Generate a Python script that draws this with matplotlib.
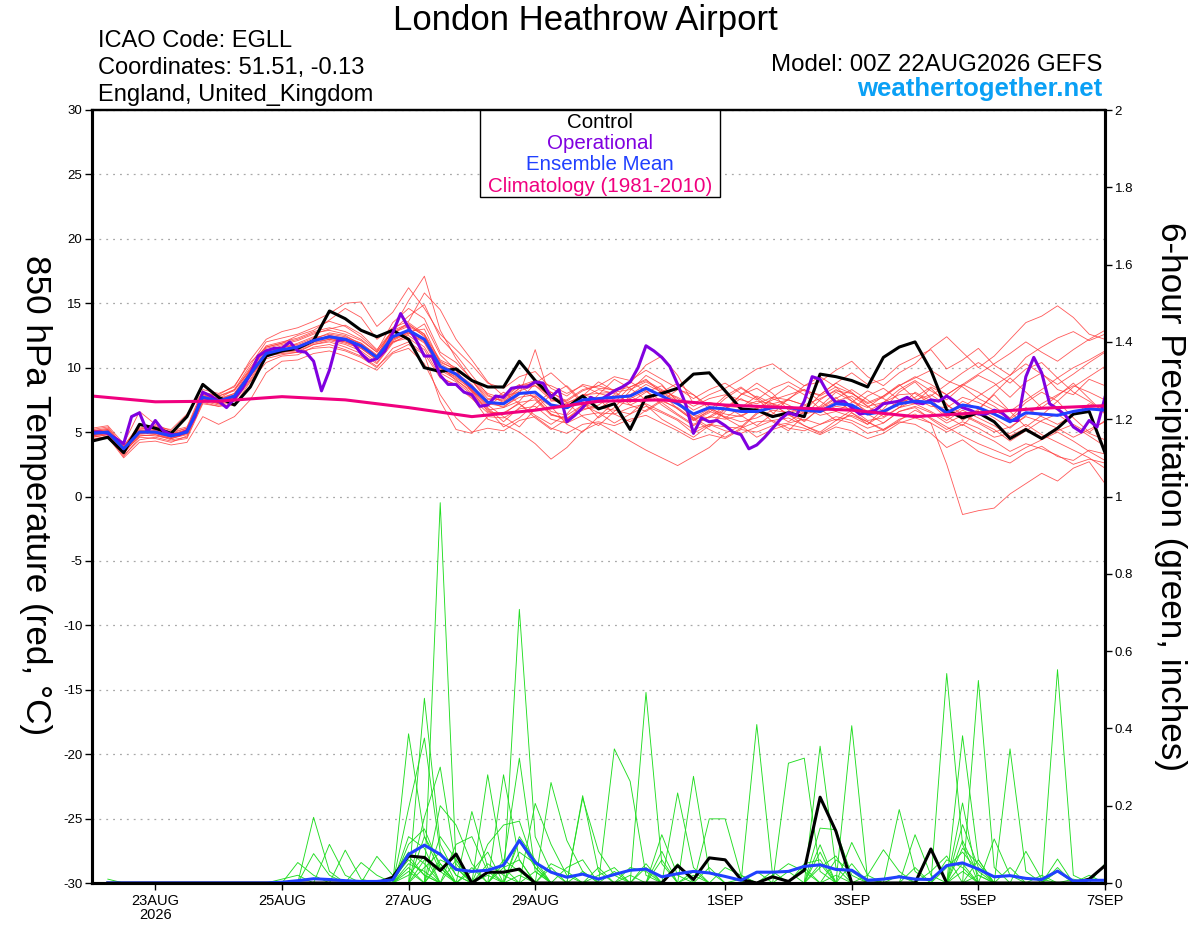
import matplotlib
matplotlib.use('Agg')
import matplotlib.pyplot as plt
from matplotlib.patches import Rectangle
import numpy as np
import pandas as pd

plt.rcParams['font.family'] = ['Liberation Sans', 'DejaVu Sans']
plt.rcParams['axes.unicode_minus'] = False

# ---- forecast times (00Z 22AUG2026 GEFS run) ----
run_start = pd.Timestamp('2026-08-22 00:00')
times_6h = pd.date_range(run_start, periods=65, freq='6h')
times_3h = pd.date_range(run_start, periods=129, freq='3h')
times_clim = pd.date_range(run_start, periods=17, freq='1D')

# ---- 850 hPa temperature (C) ----
control_t = [4.3, 4.6, 3.4, 5.6, 5.3, 4.9, 6.2, 8.7, 7.7, 7.1, 8.5, 10.9, 11.3,
             11.5, 12.1, 14.4, 13.8, 12.9, 12.4, 12.9, 12.2, 10.0, 9.7, 9.9, 9.0, 8.5,
             8.5, 10.5, 9.0, 7.8, 6.9, 7.8, 6.8, 7.2, 5.2, 7.7, 8.0, 8.4, 9.5,
             9.6, 8.2, 6.8, 6.7, 6.2, 6.5, 6.2, 9.5, 9.3, 9.0, 8.5, 10.8, 11.6, 12.0,
             9.8, 6.7, 6.1, 6.5, 5.8, 4.5, 5.2, 4.5, 5.3, 6.4, 6.6, 3.4]

operational_t = [5.0, 5.0, 4.9, 4.5, 4.1, 6.2, 6.5, 5.0, 5.9, 5.1, 4.8, 4.8, 5.1,
                 6.2, 8.1, 7.8, 7.4, 6.9, 7.6, 8.4, 9.5, 10.9, 11.3, 11.5, 11.5,
                 12.0, 11.3, 11.2, 10.5, 8.2, 9.8, 12.1, 12.2, 11.9, 11.1, 10.5,
                 10.7, 11.3, 12.7, 14.2, 13.1, 12.1, 10.9, 10.9, 9.4, 8.7, 8.7,
                 8.1, 7.9, 7.0, 7.1, 7.8, 7.7, 8.4, 8.5, 8.5, 8.9, 8.8, 7.7, 8.3,
                 5.8, 6.3, 6.9, 7.7, 7.4, 7.8, 8.2, 8.5, 8.9, 10.0, 11.7, 11.3,
                 10.8, 10.1, 8.7, 7.2, 4.9, 6.1, 5.8, 5.9, 5.5, 5.0, 4.8, 3.7,
                 4.0, 4.6, 5.3, 6.0, 6.5, 6.3, 7.4, 9.3, 9.1, 8.0, 7.3, 7.4, 6.9,
                 6.4, 6.5, 6.7, 7.2, 7.3, 7.4, 7.7, 7.3, 7.2, 7.5, 7.4, 7.8, 7.4,
                 6.9, 6.7, 6.4, 6.4, 6.7, 6.5, 5.9, 5.9, 9.3, 10.8, 9.6, 7.2,
                 6.8, 6.3, 5.4, 5.0, 5.9, 5.4, 7.7]

mean_t = [4.9, 5.0, 3.7, 5.0, 5.0, 4.7, 5.0, 7.7, 7.4, 7.8, 9.5, 11.1, 11.4,
          11.6, 12.1, 12.4, 12.2, 11.7, 10.8, 12.4, 12.9, 12.2, 10.1, 9.5, 8.5, 7.3,
          7.2, 8.0, 8.1, 7.1, 6.9, 7.5, 7.6, 7.7, 7.8, 8.4, 7.8, 7.2, 6.4,
          6.9, 6.8, 6.6, 6.6, 6.9, 6.9, 6.7, 6.6, 7.2, 7.1, 6.4, 6.6, 7.2,
          7.4, 7.3, 6.5, 7.1, 6.9, 6.4, 5.8, 6.5, 6.4, 6.3, 6.6, 6.8, 6.7]

climatology_t = [7.8, 7.35, 7.4, 7.75, 7.5, 6.9, 6.2, 6.7, 7.4, 7.5, 7.1, 6.9,
                 6.7, 6.2, 6.5, 6.85, 7.05]

temp_m01 = [5.1, 5.3, 3.9, 5.6, 5.4, 5.2, 6.4, 8.1, 7.6, 8.3, 10.2, 12.0, 12.3,
            12.6, 13.1, 13.6, 13.2, 12.4, 11.3, 13.5, 14.6, 13.8, 11.2, 10.4, 9.1, 8.0,
            7.6, 8.6, 9.0, 8.1, 7.4, 8.2, 8.6, 9.3, 9.0, 9.8, 9.1, 8.4, 7.6,
            8.3, 8.8, 8.0, 7.5, 8.4, 8.9, 8.2, 7.9, 8.8, 9.6, 8.7, 9.1, 10.2,
            10.8, 11.4, 9.9, 10.6, 11.5, 10.2, 9.4, 10.8, 11.6, 12.3, 12.8, 12.1, 12.6]
temp_m02 = [4.6, 4.8, 3.2, 4.4, 4.6, 4.3, 4.5, 7.2, 7.0, 7.1, 8.9, 10.4, 10.9,
            11.0, 11.6, 11.8, 11.4, 10.9, 10.1, 11.2, 11.8, 11.0, 7.4, 5.2, 4.9, 6.2,
            6.1, 6.8, 7.0, 6.0, 5.7, 6.3, 6.5, 6.4, 6.9, 7.2, 6.6, 6.0, 5.2,
            5.6, 5.4, 5.3, 5.8, 5.9, 5.3, 5.1, 5.6, 6.0, 5.7, 4.9, 5.2, 5.8,
            5.6, 4.9, 3.8, 4.4, 3.5, 3.0, 2.6, 3.4, 3.9, 3.1, 2.8, 3.6, 3.3]
temp_m03 = [5.0, 5.2, 3.6, 5.3, 5.2, 4.9, 5.3, 8.0, 7.9, 8.6, 10.4, 11.6, 11.9,
            12.5, 12.9, 13.7, 14.6, 13.9, 12.2, 13.1, 13.6, 15.8, 14.5, 12.2, 10.6, 8.9,
            7.8, 8.1, 7.7, 6.4, 6.0, 6.7, 7.1, 7.9, 7.3, 8.1, 8.6, 7.4, 6.3,
            6.1, 6.8, 7.9, 8.4, 7.6, 7.1, 6.5, 7.0, 8.1, 7.4, 6.6, 7.3, 8.3,
            9.0, 8.2, 7.5, 8.6, 9.4, 8.8, 7.7, 8.9, 9.6, 8.3, 7.9, 9.1, 8.6]
temp_m04 = [4.8, 4.9, 3.4, 4.7, 4.8, 4.4, 4.6, 7.4, 7.1, 7.5, 9.1, 10.9, 11.2,
            11.3, 11.8, 12.0, 11.6, 11.1, 10.3, 11.9, 12.6, 13.4, 11.0, 9.8, 8.2, 6.6,
            6.4, 7.3, 7.5, 6.3, 6.1, 6.8, 6.9, 6.7, 6.4, 7.0, 6.5, 5.9, 4.9,
            5.6, 5.1, 4.9, 5.4, 5.9, 6.1, 5.5, 5.0, 5.9, 6.3, 5.8, 5.2, 6.0,
            6.4, 5.7, 2.5, -1.4, -1.1, -0.9, 0.2, 1.0, 1.8, 1.2, 2.2, 2.7, 1.0]
temp_m05 = [5.3, 5.5, 4.1, 6.6, 5.6, 5.1, 5.4, 8.3, 8.0, 8.5, 10.6, 12.2, 12.8,
            13.1, 13.6, 14.2, 15.0, 15.1, 13.2, 14.3, 16.2, 14.6, 12.6, 11.4, 10.2, 8.8,
            8.4, 9.3, 9.7, 8.4, 7.8, 8.7, 8.4, 8.3, 8.8, 10.2, 10.9, 9.4, 7.2,
            7.9, 8.4, 9.1, 9.9, 10.3, 9.4, 8.6, 8.9, 9.8, 10.5, 9.3, 8.6, 9.6,
            10.3, 11.5, 12.4, 11.2, 10.0, 10.9, 12.2, 13.5, 14.0, 14.8, 13.9, 12.6, 12.2]
temp_m06 = [4.5, 4.6, 3.0, 4.2, 4.3, 4.0, 4.2, 6.2, 5.6, 6.2, 7.5, 9.6, 10.5,
            10.6, 11.1, 11.3, 10.9, 10.4, 9.8, 11.1, 11.5, 10.3, 7.9, 6.1, 5.0, 5.3,
            5.1, 5.9, 6.2, 5.3, 4.9, 5.6, 5.8, 5.5, 6.0, 6.3, 5.7, 5.1, 4.4,
            4.8, 4.5, 5.2, 5.0, 5.5, 5.7, 6.0, 5.6, 6.2, 5.9, 5.3, 5.7, 6.6,
            6.9, 6.0, 5.2, 5.8, 5.3, 4.6, 4.9, 5.6, 4.8, 4.2, 3.6, 3.0, 2.2]
temp_m07 = [4.9, 5.1, 3.8, 5.1, 5.0, 4.6, 5.1, 7.6, 7.3, 7.7, 9.8, 11.4, 11.5,
            11.9, 12.4, 12.3, 12.0, 11.6, 10.9, 12.2, 12.8, 13.0, 10.4, 9.9, 9.0, 7.8,
            7.4, 8.2, 8.6, 7.8, 7.3, 7.7, 8.3, 8.0, 7.6, 8.2, 7.4, 6.9, 6.0,
            6.6, 6.2, 5.8, 6.1, 6.7, 6.5, 6.9, 6.3, 6.6, 6.2, 5.6, 6.4, 7.3,
            7.7, 8.5, 7.9, 8.7, 8.1, 7.3, 6.6, 7.5, 8.3, 9.2, 10.0, 10.6, 11.3]
temp_m08 = [5.2, 5.0, 3.5, 4.9, 5.1, 4.8, 5.2, 7.9, 7.5, 8.0, 9.6, 11.3, 11.7,
            11.8, 12.3, 12.6, 12.4, 11.9, 11.0, 12.7, 13.2, 12.5, 10.3, 9.6, 8.7, 7.2,
            7.0, 7.7, 7.9, 6.6, 6.3, 7.1, 7.3, 7.4, 7.1, 7.7, 7.3, 6.4, 5.6,
            6.2, 6.0, 6.3, 6.8, 7.2, 7.5, 7.1, 6.5, 7.0, 6.8, 5.9, 6.1, 6.9,
            7.2, 6.6, 5.9, 6.7, 6.1, 5.5, 4.7, 5.3, 4.6, 5.1, 5.6, 4.9, 4.4]
temp_m09 = [4.7, 4.9, 3.3, 4.9, 4.9, 4.5, 4.9, 7.5, 7.2, 7.6, 9.3, 10.9, 11.1,
            11.2, 11.8, 12.1, 11.8, 11.3, 10.4, 12.0, 12.5, 11.6, 9.6, 8.9, 7.9, 6.7,
            6.9, 7.4, 8.8, 9.6, 8.5, 7.2, 6.8, 7.6, 8.9, 8.2, 7.1, 6.3, 5.5,
            6.2, 7.0, 6.3, 5.5, 6.4, 7.6, 8.3, 7.4, 6.6, 7.3, 8.2, 7.6, 6.9,
            8.1, 7.4, 6.3, 7.4, 6.8, 6.1, 5.3, 6.3, 7.2, 7.9, 8.6, 8.1, 7.5]
temp_m10 = [5.0, 5.0, 3.9, 5.2, 5.3, 4.9, 5.0, 7.8, 7.6, 8.0, 9.9, 11.5, 11.8,
            12.1, 12.6, 13.0, 13.3, 12.6, 11.4, 12.9, 13.4, 12.4, 10.5, 9.8, 8.1, 7.5,
            7.8, 8.6, 8.8, 7.6, 7.0, 7.9, 7.6, 6.4, 5.8, 6.7, 7.5, 6.8, 5.9,
            6.5, 7.6, 8.4, 7.7, 6.9, 7.5, 8.6, 9.3, 8.5, 7.4, 6.9, 7.8, 8.7,
            7.6, 7.0, 6.9, 7.7, 7.3, 6.7, 6.0, 6.9, 6.2, 5.6, 6.3, 7.2, 6.8]
temp_m11 = [4.4, 4.7, 3.1, 4.6, 4.5, 4.2, 4.7, 7.3, 7.0, 7.4, 9.0, 10.7, 11.0,
            11.2, 11.5, 11.6, 11.3, 10.8, 10.0, 11.5, 12.0, 11.1, 9.2, 8.7, 7.7, 6.0,
            5.6, 5.0, 4.1, 2.9, 3.8, 5.1, 5.7, 5.0, 4.3, 3.6, 3.0, 2.4, 3.1,
            3.8, 4.9, 5.5, 4.6, 5.2, 5.6, 5.3, 4.8, 5.4, 5.1, 4.5, 4.9, 5.7,
            6.1, 5.7, 5.0, 5.6, 4.9, 4.3, 3.5, 4.1, 3.7, 3.2, 2.5, 2.9, 2.6]
temp_m12 = [5.1, 5.2, 3.8, 5.4, 5.2, 4.8, 5.2, 7.9, 7.8, 8.3, 9.8, 11.6, 11.9,
            12.2, 12.7, 12.9, 12.6, 12.1, 11.2, 12.9, 14.0, 14.9, 12.3, 11.0, 9.4, 7.9,
            7.3, 8.4, 8.9, 8.6, 8.0, 8.6, 8.0, 7.7, 7.9, 8.7, 8.1, 7.2, 6.1,
            6.8, 6.4, 6.2, 6.9, 7.5, 7.9, 8.3, 7.8, 8.5, 8.0, 7.2, 7.7, 8.6,
            9.2, 9.8, 9.0, 8.5, 7.6, 7.0, 6.1, 7.3, 8.1, 7.4, 8.5, 9.3, 10.1]
temp_m13 = [4.8, 5.0, 3.6, 4.8, 4.7, 4.5, 4.8, 7.6, 7.2, 7.6, 9.4, 11.0, 11.3,
            11.5, 12.0, 12.5, 12.3, 11.9, 10.9, 12.6, 13.5, 12.6, 10.1, 9.0, 8.2, 6.9,
            5.8, 6.9, 7.8, 7.0, 5.6, 5.0, 6.2, 7.3, 8.5, 9.1, 8.0, 6.8, 5.9,
            6.7, 7.8, 8.5, 7.6, 6.5, 5.8, 6.6, 7.9, 8.8, 8.1, 7.0, 6.2, 6.9,
            7.5, 7.9, 7.1, 6.4, 5.8, 5.2, 4.3, 5.1, 5.9, 6.4, 5.5, 4.7, 3.9]
temp_m14 = [5.0, 5.1, 3.7, 5.1, 5.1, 4.7, 5.1, 7.8, 7.5, 7.9, 9.7, 11.2, 11.6,
            11.7, 12.2, 12.7, 12.5, 11.8, 10.9, 13.0, 15.2, 17.1, 12.9, 10.7, 9.0, 7.4,
            6.9, 7.9, 11.4, 7.4, 7.5, 8.3, 8.6, 8.2, 8.5, 9.0, 8.3, 7.6, 6.7,
            7.3, 7.0, 6.9, 7.4, 7.2, 6.8, 6.4, 6.7, 7.4, 7.8, 7.0, 7.3, 7.9,
            8.0, 7.2, 6.1, 6.9, 7.8, 8.6, 9.4, 10.3, 9.5, 8.7, 9.5, 10.4, 11.2]
temp_m15 = [4.6, 4.8, 3.4, 4.7, 4.8, 4.5, 4.9, 7.5, 7.3, 7.6, 9.3, 10.9, 11.2,
            11.4, 11.9, 12.2, 11.9, 11.5, 10.6, 12.1, 12.7, 11.9, 9.8, 9.1, 8.0, 6.8,
            5.4, 6.1, 7.2, 8.1, 7.3, 6.2, 5.5, 6.6, 7.8, 7.1, 6.0, 5.3, 4.6,
            5.5, 6.8, 7.6, 6.9, 5.8, 5.1, 6.3, 7.5, 8.3, 7.6, 6.4, 5.7, 6.6,
            7.0, 6.5, 5.7, 6.3, 5.7, 5.0, 5.4, 6.2, 5.8, 5.3, 4.6, 5.2, 5.8]
temp_m16 = [5.0, 5.1, 3.7, 5.1, 5.1, 4.8, 5.1, 7.7, 7.4, 7.8, 9.6, 11.2, 11.4,
            11.6, 12.1, 12.5, 12.2, 11.6, 10.7, 12.2, 12.7, 12.0, 10.0, 9.2, 8.3, 7.0,
            7.9, 8.7, 7.6, 6.4, 5.9, 6.8, 7.9, 9.1, 8.4, 7.5, 8.1, 8.8, 7.9,
            6.8, 6.1, 6.9, 7.8, 7.2, 6.3, 5.9, 6.8, 7.6, 8.3, 7.5, 6.6, 7.4,
            7.2, 7.8, 8.7, 9.6, 10.4, 9.6, 8.8, 9.9, 10.4, 9.2, 8.1, 7.4, 6.5]
temp_m17 = [4.7, 4.9, 3.5, 4.9, 5.0, 4.6, 5.0, 7.6, 7.3, 7.7, 9.4, 11.0, 11.3,
            11.5, 12.0, 12.2, 12.0, 11.5, 10.6, 12.0, 12.3, 11.4, 9.3, 8.6, 7.6, 6.5,
            6.5, 7.2, 6.1, 5.2, 6.0, 7.1, 6.5, 5.7, 6.4, 7.5, 8.2, 7.3, 6.0,
            5.2, 4.6, 5.3, 6.4, 7.1, 6.4, 5.5, 4.9, 5.6, 6.5, 5.8, 5.1, 5.9,
            6.7, 6.1, 5.4, 4.7, 4.1, 3.6, 3.1, 3.8, 4.4, 5.0, 4.3, 3.5, 2.8]
temp_m18 = [5.2, 5.4, 3.9, 5.5, 5.5, 5.0, 5.3, 8.1, 7.8, 8.2, 10.0, 11.7, 12.0,
            12.3, 12.8, 13.1, 12.8, 12.2, 11.2, 12.8, 13.3, 12.6, 10.6, 10.0, 9.0, 7.6,
            7.5, 8.4, 8.6, 7.5, 7.2, 7.9, 8.0, 8.1, 8.3, 8.9, 8.2, 7.7, 7.0,
            7.6, 7.9, 7.5, 7.2, 7.7, 7.5, 7.1, 7.6, 8.2, 8.0, 7.3, 7.8, 8.6,
            9.3, 8.7, 7.9, 8.7, 9.5, 10.3, 11.1, 12.0, 11.2, 10.5, 11.4, 12.2, 12.9]
temp_m19 = [4.9, 5.0, 3.6, 5.0, 5.0, 4.7, 5.0, 7.7, 7.4, 7.8, 9.5, 11.1, 11.4,
            11.6, 12.1, 12.4, 12.2, 11.7, 10.8, 12.3, 12.8, 12.1, 10.0, 9.4, 8.4, 7.2,
            8.1, 7.2, 6.3, 5.6, 6.4, 7.8, 8.9, 8.2, 7.1, 6.6, 7.4, 8.3, 7.9,
            7.0, 6.1, 5.4, 6.5, 7.7, 8.6, 7.9, 6.8, 5.9, 6.7, 7.8, 8.4, 7.5,
            7.3, 8.4, 7.2, 5.9, 6.8, 7.9, 6.6, 5.4, 6.3, 7.4, 6.1, 5.0, 5.9]
temp_m20 = [4.8, 4.9, 3.5, 5.0, 4.9, 4.6, 4.9, 7.6, 7.3, 7.7, 9.5, 11.1, 11.3,
            11.6, 12.1, 12.3, 12.1, 11.6, 10.7, 12.3, 12.8, 12.1, 9.9, 9.3, 8.3, 7.1,
            6.2, 5.4, 6.8, 7.9, 8.6, 7.4, 6.1, 6.9, 8.2, 9.4, 8.7, 7.3, 6.1,
            5.4, 6.6, 7.9, 8.8, 8.0, 6.7, 5.8, 6.9, 7.7, 6.5, 5.6, 6.8, 8.1,
            8.9, 7.6, 6.2, 5.5, 6.7, 8.0, 9.2, 8.1, 6.9, 7.8, 8.8, 7.6, 6.4]

# ---- 6-hour precipitation (inches), steps 1..64 ----
control_p = [0, 0, 0, 0, 0, 0, 0, 0, 0, 0, 0, 0, 0, 0, 0, 0, 0, 0,
             0.015, 0.07, 0.066, 0.032, 0.075, 0, 0.028, 0.028, 0.036, 0,
             0, 0, 0, 0, 0, 0, 0, 0, 0.045, 0.009, 0.065, 0.06, 0.009, 0,
             0.016, 0.004, 0.033, 0.222, 0.134, 0, 0, 0, 0, 0, 0.088, 0,
             0, 0, 0, 0, 0, 0, 0, 0, 0.01, 0.045]
mean_p = [0, 0, 0, 0, 0, 0, 0, 0, 0, 0, 0, 0.002, 0.006, 0.011, 0.009, 0.006,
          0.004, 0.004, 0.008, 0.074, 0.098, 0.074, 0.035, 0.03, 0.033, 0.046,
          0.11, 0.053, 0.028, 0.015, 0.023, 0.01, 0.022, 0.033, 0.036, 0.016,
          0.024, 0.03, 0.026, 0.017, 0.007, 0.028, 0.028, 0.03, 0.043, 0.047,
          0.035, 0.033, 0.007, 0.01, 0.016, 0.01, 0.009, 0.045, 0.052, 0.036,
          0.016, 0.019, 0.012, 0.009, 0.031, 0.005, 0.007, 0.007]

# members: {forecast step: inches}, zero elsewhere
precip_m01 = {20: 0.386, 21: 0.12, 22: 0.05, 27: 0.02, 31: 0.226, 32: 0.03, 42: 0.41, 43: 0.02, 54: 0.542, 55: 0.1}
precip_m02 = {14: 0.17, 15: 0.03, 21: 0.478, 22: 0.10, 23: 0.02, 27: 0.708, 28: 0.12, 29: 0.03, 46: 0.099, 55: 0.207}
precip_m03 = {22: 0.984, 23: 0.05, 26: 0.05, 27: 0.323, 28: 0.03, 35: 0.493, 36: 0.05, 56: 0.524, 57: 0.04}
precip_m04 = {13: 0.053, 14: 0.02, 20: 0.193, 21: 0.375, 22: 0.08, 25: 0.28, 26: 0.04, 38: 0.276, 39: 0.03, 61: 0.552, 62: 0.02}
precip_m05 = {15: 0.10, 16: 0.02, 21: 0.17, 22: 0.30, 23: 0.04, 29: 0.26, 30: 0.11, 31: 0.03, 46: 0.354, 47: 0.04, 58: 0.347, 59: 0.03}
precip_m06 = {16: 0.085, 17: 0.01, 20: 0.12, 21: 0.09, 26: 0.28, 27: 0.06, 33: 0.347, 34: 0.263, 35: 0.02, 48: 0.407, 49: 0.01, 55: 0.381, 56: 0.06}
precip_m07 = {1: 0.01, 17: 0.053, 18: 0.02, 22: 0.2, 23: 0.15, 24: 0.05, 37: 0.233, 38: 0.04, 44: 0.31, 45: 0.323, 46: 0.03, 55: 0.151, 56: 0.04}
precip_m08 = {18: 0.069, 19: 0.02, 20: 0.08, 21: 0.05, 24: 0.185, 25: 0.04, 31: 0.22, 32: 0.082, 33: 0.02, 51: 0.19, 52: 0.03, 64: 0.05}
precip_m09 = {14: 0.076, 15: 0.02, 23: 0.10, 24: 0.12, 25: 0.03, 36: 0.125, 37: 0.02, 46: 0.142, 47: 0.138, 48: 0.02, 57: 0.114, 58: 0.02}
precip_m10 = {12: 0.01, 13: 0.02, 21: 0.06, 22: 0.04, 25: 0.10, 26: 0.15, 27: 0.16, 28: 0.04, 39: 0.166, 40: 0.166, 41: 0.02, 52: 0.125, 53: 0.02, 61: 0.062}
precip_m11 = {20: 0.05, 21: 0.03, 28: 0.206, 29: 0.1, 30: 0.02, 36: 0.082, 48: 0.105, 49: 0.02, 50: 0.086, 51: 0.03, 59: 0.082, 60: 0.01}
precip_m12 = {20: 0.03, 22: 0.06, 23: 0.04, 29: 0.05, 30: 0.03, 40: 0.04, 41: 0.02, 45: 0.05, 46: 0.06, 54: 0.04, 55: 0.08, 56: 0.03}
precip_m13 = {19: 0.01, 20: 0.06, 21: 0.02, 24: 0.04, 27: 0.08, 28: 0.05, 34: 0.04, 35: 0.03, 47: 0.06, 48: 0.03, 55: 0.05, 62: 0.01}
precip_m14 = {21: 0.04, 22: 0.08, 23: 0.02, 26: 0.06, 27: 0.03, 32: 0.02, 33: 0.04, 38: 0.03, 43: 0.02, 44: 0.05, 45: 0.03, 56: 0.02, 63: 0.02}
precip_m15 = {20: 0.1, 21: 0.14, 22: 0.04, 25: 0.05, 26: 0.02, 30: 0.04, 31: 0.06, 37: 0.05, 46: 0.04, 47: 0.07, 54: 0.06, 55: 0.04}
precip_m16 = {22: 0.12, 23: 0.06, 27: 0.11, 28: 0.04, 33: 0.03, 36: 0.06, 42: 0.03, 48: 0.05, 55: 0.11, 56: 0.02, 61: 0.04}
precip_m17 = {20: 0.02, 21: 0.07, 24: 0.03, 25: 0.08, 29: 0.04, 35: 0.05, 39: 0.04, 46: 0.05, 53: 0.03, 54: 0.07, 60: 0.02}
precip_m18 = {21: 0.12, 22: 0.03, 26: 0.04, 27: 0.06, 31: 0.03, 34: 0.02, 41: 0.01, 45: 0.04, 51: 0.02, 55: 0.09, 56: 0.05}
precip_m19 = {20: 0.07, 21: 0.02, 23: 0.06, 28: 0.03, 32: 0.04, 38: 0.02, 44: 0.03, 46: 0.08, 49: 0.02, 55: 0.03, 58: 0.04}
precip_m20 = {20: 0.04, 22: 0.05, 25: 0.02, 27: 0.12, 28: 0.06, 35: 0.04, 43: 0.03, 47: 0.02, 52: 0.04, 56: 0.06, 61: 0.03}

tick_dates = ['2026-08-23', '2026-08-25', '2026-08-27', '2026-08-29',
              '2026-09-01', '2026-09-03', '2026-09-05', '2026-09-07']
tick_labels = ['23AUG\n2026', '25AUG', '27AUG', '29AUG', '1SEP', '3SEP', '5SEP', '7SEP']
temp_ticks = list(range(-30, 31, 5))
precip_ticks = [0, 0.2, 0.4, 0.6, 0.8, 1, 1.2, 1.4, 1.6, 1.8, 2]

temp_members = [temp_m01, temp_m02, temp_m03, temp_m04, temp_m05, temp_m06, temp_m07,
                temp_m08, temp_m09, temp_m10, temp_m11, temp_m12, temp_m13, temp_m14,
                temp_m15, temp_m16, temp_m17, temp_m18, temp_m19, temp_m20]
precip_members = [precip_m01, precip_m02, precip_m03, precip_m04, precip_m05,
                  precip_m06, precip_m07, precip_m08, precip_m09, precip_m10,
                  precip_m11, precip_m12, precip_m13, precip_m14, precip_m15,
                  precip_m16, precip_m17, precip_m18, precip_m19, precip_m20]

W, H = 1200, 927
fig = plt.figure(figsize=(W / 100, H / 100), dpi=100)
ax = fig.add_axes([92 / W, (H - 883) / H, 1013 / W, 773 / H])
ax2 = ax.twinx()

# temperature
for m in temp_members:
    ax.plot(times_6h, m, color='#ff3b3b', lw=0.6, alpha=0.85)
ax.plot(times_6h, control_t, color='black', lw=2.2)
ax.plot(times_3h, operational_t, color='#8000e0', lw=2.2)
ax.plot(times_6h, mean_t, color='#2040ff', lw=2.2)
ax.plot(times_clim, climatology_t, color='#f0007f', lw=2.2)

# precipitation
precip_times = times_6h[1:]
for p in precip_members:
    vals = np.zeros(len(precip_times))
    for step, v in p.items():
        vals[step - 1] = v
    ax2.plot(precip_times, vals, color='#22dd22', lw=0.65)
ax2.plot(precip_times, control_p, color='black', lw=2.2)
ax2.plot(precip_times, mean_p, color='#2040ff', lw=2.2)

ax.set_xlim(times_6h[0], times_6h[-1])
ax.set_ylim(-30, 30)
ax2.set_ylim(0, 2)

ax.set_yticks(temp_ticks)
ax.set_yticklabels([str(t) for t in temp_ticks])
ax2.set_yticks(precip_ticks)
ax2.set_yticklabels(['%g' % v for v in precip_ticks])
ax.set_xticks(pd.to_datetime(tick_dates))
ax.set_xticklabels(tick_labels, linespacing=1.0)

ax.grid(axis='y', color='#a8a8a8', linestyle=(0, (1.5, 4)), lw=0.9)
ax.tick_params(axis='y', direction='out', length=5, width=1, labelsize=9.5, pad=2)
ax.tick_params(axis='x', direction='out', length=5, width=1, labelsize=10.5, pad=3)
ax2.tick_params(axis='y', direction='out', length=5, width=1, labelsize=9.5, pad=2)
for a in (ax, ax2):
    for side in ('left', 'right', 'bottom'):
        a.spines[side].set_linewidth(2.2)
    a.spines['top'].set_linewidth(1.6)

# labels and header
fig.text(35 / W, 1 - 495 / H, '850 hPa Temperature (red, °C)', rotation=270,
         ha='center', va='center', fontsize=25.3)
fig.text(1171 / W, 1 - 496 / H, '6-hour Precipitation (green, inches)', rotation=270,
         ha='center', va='center', fontsize=25.3)

fig.text(585 / W, 1 - 30 / H, 'London Heathrow Airport', ha='center', va='baseline', fontsize=25)
fig.text(98 / W, 1 - 47 / H, 'ICAO Code: EGLL', ha='left', va='baseline', fontsize=17)
fig.text(98 / W, 1 - 74 / H, 'Coordinates: 51.51, -0.13', ha='left', va='baseline', fontsize=17)
fig.text(98 / W, 1 - 101 / H, 'England, United_Kingdom', ha='left', va='baseline', fontsize=17)
fig.text(1102 / W, 1 - 71 / H, 'Model: 00Z 22AUG2026 GEFS', ha='right', va='baseline', fontsize=17.3)
fig.text(1102 / W, 1 - 96 / H, 'weathertogether.net', ha='right', va='baseline',
         fontsize=18.5, fontweight='bold', color='#0aa0f5')

# legend box
fig.add_artist(Rectangle((480 / W, 1 - 197 / H), 240 / W, 87 / H, transform=fig.transFigure,
                         facecolor='white', edgecolor='black', lw=1, zorder=10))
legend_items = [('Control', 'black', 128), ('Operational', '#8000e0', 149),
                ('Ensemble Mean', '#2040ff', 170), ('Climatology (1981-2010)', '#f0007f', 192)]
for label, col, base in legend_items:
    fig.text(600 / W, 1 - base / H, label, ha='center', va='baseline', color=col,
             fontsize=14.8, zorder=11)

fig.savefig('out.png', dpi=100)
